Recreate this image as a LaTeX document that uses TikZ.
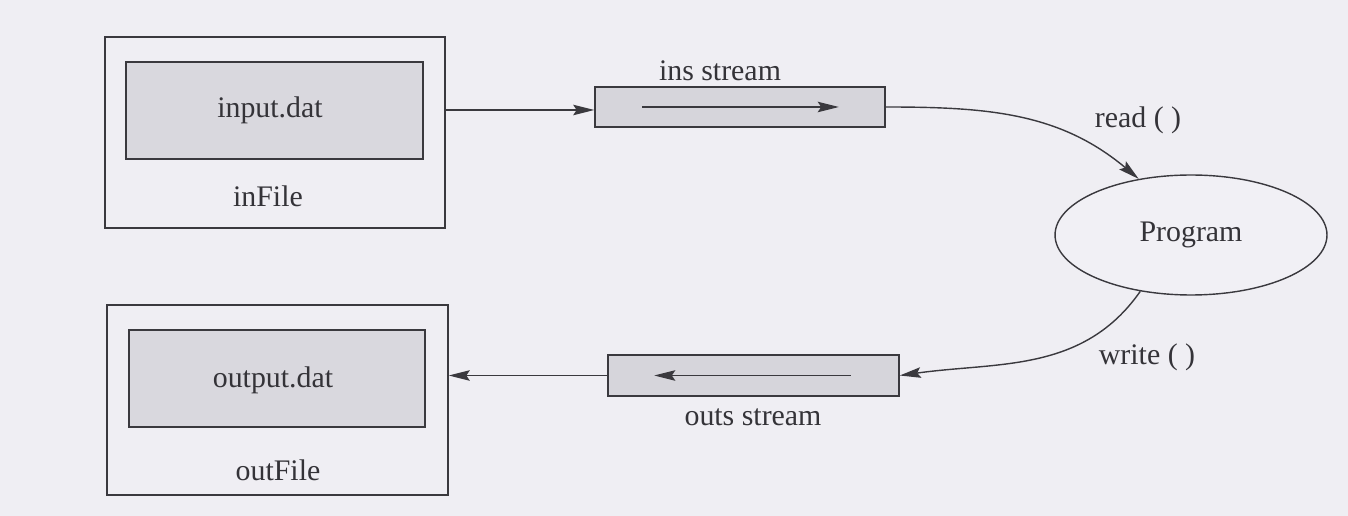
\documentclass[tikz,border=0pt]{standalone}
\usepackage{fontspec}
\setmainfont{Liberation Serif}
\usetikzlibrary{shapes.geometric,arrows.meta,calc}
\definecolor{paper}{HTML}{EFEEF3}
\definecolor{ink}{HTML}{3A393E}
\definecolor{filefill}{HTML}{D9D8DE}
\definecolor{streamfill}{HTML}{D6D5DB}
\definecolor{progfill}{HTML}{F1F0F5}
\tikzset{
  every node/.style={font=\fontsize{17}{20}\selectfont, text=ink!90!black},
  outerbox/.style={draw=ink, line width=0.9pt, rectangle, inner sep=0pt},
  innerbox/.style={draw=ink, line width=0.9pt, fill=filefill, rectangle, inner sep=0pt},
  streambox/.style={draw=ink, line width=0.9pt, fill=streamfill, rectangle, inner sep=0pt,
    minimum width=5.8cm, minimum height=0.8cm},
  progshape/.style={draw=ink, line width=0.8pt, fill=progfill, ellipse, inner sep=0pt,
    minimum width=5.44cm, minimum height=2.4cm},
  flow/.style={draw=ink, line width=0.8pt, -{Stealth[length=12pt,width=6pt,inset=2pt]}},
  lbl/.style={inner sep=0pt}
}
\begin{document}
\begin{tikzpicture}[x=0.02cm,y=-0.02cm]
  % page
  \fill[paper] (0,0) rectangle (1348,516);
  \useasboundingbox (0,0) rectangle (1348,516);

  % input file
  \node[outerbox, minimum width=6.8cm, minimum height=3.82cm] (inFile) at (275,132.5) {};
  \node[innerbox, minimum width=5.94cm, minimum height=1.94cm] (inDat) at (274.5,110.5) {};
  \node[lbl] (inDatTxt) at (270,110) {input.dat};
  \node[lbl] (inFileTxt) at (268,196) {inFile};

  % output file
  \node[outerbox, minimum width=6.82cm, minimum height=3.8cm] (outFile) at (277.5,400) {};
  \node[innerbox, minimum width=5.92cm, minimum height=1.94cm] (outDat) at (277,378.5) {};
  \node[lbl] (outDatTxt) at (273,380) {output.dat};
  \node[lbl] (outFileTxt) at (278,470) {outFile};

  % streams
  \node[streambox] (ins) at (740,107) {};
  \node[lbl] (insTxt) at (720,71) {ins stream};
  \node[streambox, minimum width=5.82cm, minimum height=0.82cm] (outs) at (753.5,375.5) {};
  \node[lbl] (outsTxt) at (753,417) {outs stream};

  % program
  \node[progshape] (prog) at (1191,235) {Program};
  \node[lbl] (readTxt) at (1138,120) {read ( )};
  \node[lbl] (writeTxt) at (1147,357) {write ( )};

  % data flow
  \draw[flow] ([yshift=-0.06cm]inFile.east |- ins.west) -- ([yshift=-0.06cm]ins.west);
  \draw[flow] ([xshift=0.96cm]ins.west) -- ([xshift=-0.94cm]ins.east);
  \draw[flow] (ins.east) to[out=0, in=140] (prog.133);
  \draw[flow] (prog.228) to[out=235, in=8] (outs.east);
  \draw[flow] ([xshift=-0.98cm]outs.east) -- ([xshift=0.94cm]outs.west);
  \draw[flow] (outs.west) -- (outFile.east |- outs.west);
\end{tikzpicture}
\end{document}
